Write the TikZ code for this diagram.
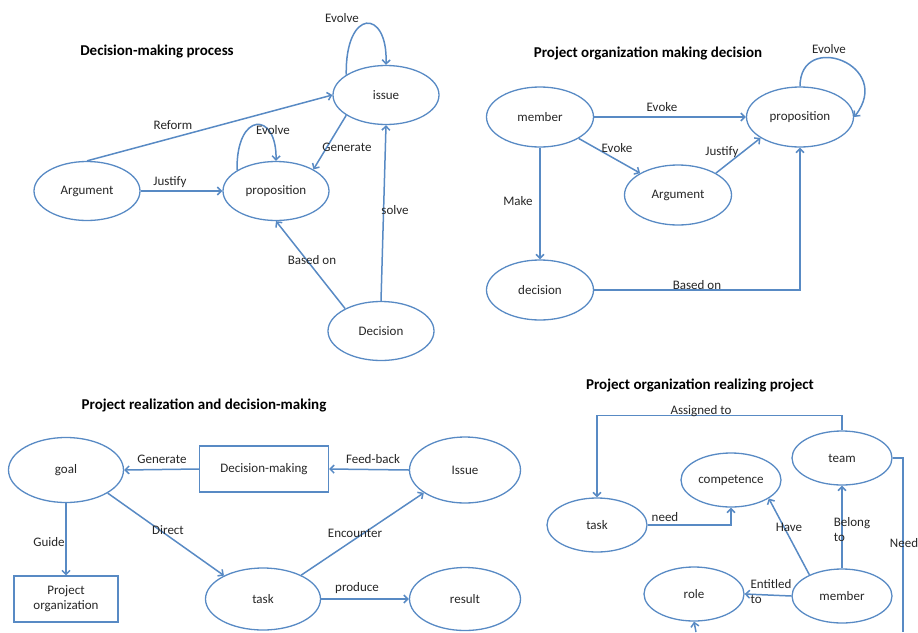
\documentclass[tikz,border=0pt]{standalone}
\usepackage{fontspec}
\setmainfont{Carlito}
\usetikzlibrary{shapes.geometric,arrows.meta}
\definecolor{linkblue}{RGB}{88,138,196}
\tikzset{
  entity/.style={ellipse, draw=linkblue, line width=1.3pt, minimum width=106pt,
    minimum height=59pt, inner sep=0pt, text=black!85, font=\fontsize{13}{15}\selectfont},
  procbox/.style={rectangle, draw=linkblue, line width=1.2pt, inner sep=0pt,
    align=center, text=black!85, font=\fontsize{13}{15}\selectfont},
  link/.style={draw=linkblue, line width=1.5pt, -{Straight Barb[length=4pt,width=8pt]}},
  plainlink/.style={draw=linkblue, line width=1.5pt},
  lbl/.style={inner sep=0pt, text=black!85, font=\fontsize{13}{15}\selectfont},
  ttl/.style={inner sep=0pt, font=\bfseries\fontsize{15}{18}\selectfont},
}
\begin{document}
\begin{tikzpicture}[x=1pt, y=-1pt]
\useasboundingbox (0,0) rectangle (918,632);

% Decision-making process
\node[ttl] (t1) at (157,52) {Decision-making process};
\foreach \n/\t/\x/\y in {issueA/issue/386/95, argA/Argument/87/191,
    propA/proposition/276/191, decA/Decision/381/331}{
    \node[entity] (\n) at (\x,\y) {\t};
}
\draw[link] (argA.north) -- (issueA.west);
\draw[link] (argA.east) -- (propA.west);
\draw[link] (issueA.207) -- (propA.30);
\draw[link] (decA.north) -- (issueA.south);
\draw[link] (decA.148) -- (propA.south);
\draw[link] (issueA.153) .. controls (345,8) and (388,8) .. (issueA.north);
\draw[link] (propA.152) .. controls (236,111) and (277,111) .. (propA.north);
\node[lbl] (evA1) at (342,18) {Evolve};
\node[lbl] (refA) at (173,125) {Reform};
\node[lbl] (jusA) at (170,182) {Justify};
\node[lbl] (evA2) at (273,130) {Evolve};
\node[lbl] (genA) at (347,147) {Generate};
\node[lbl] (solA) at (395,210) {solve};
\node[lbl] (basA) at (312,260) {Based on};

% Project organization making decision
\node[ttl] (t2) at (648,53) {Project organization making decision};
\foreach \n/\t/\x/\y in {memB/member/540/117, propB/proposition/800/117,
    argB/Argument/678/195, decB/decision/540/290}{
    \node[entity, minimum width=107pt, minimum height=60pt] (\n) at (\x,\y) {\t};
}
\draw[link] (memB.east) -- (propB.west);
\draw[link] (memB.331) -- (argB.150);
\draw[link] (argB.30) -- (propB.208);
\draw[link] (memB.south) -- (decB.north);
\draw[link] (decB.east) -| (propB.south);
\draw[link] (propB.north) .. controls (800,30) and (895,65) .. (propB.east);
\node[lbl] (evB) at (829,49) {Evolve};
\node[lbl] (evkB1) at (662,107) {Evoke};
\node[lbl] (evkB2) at (617,148) {Evoke};
\node[lbl] (jusB) at (722,152) {Justify};
\node[lbl] (makB) at (518,201) {Make};
\node[lbl] (basB) at (697,285) {Based on};

% Project realization and decision-making
\node[ttl] (t3) at (204,405) {Project realization and decision-making};
\node[entity, minimum width=115pt, minimum height=65pt] (goalC) at (66,470) {goal};
\node[entity, minimum width=111pt, minimum height=66pt] (issC) at (465,470) {Issue};
\node[entity, minimum width=115pt, minimum height=62pt] (taskC) at (263,599) {task};
\node[entity, minimum width=111pt, minimum height=63pt] (resC) at (465,599) {result};
\node[procbox, minimum width=129pt, minimum height=46pt] (dmC) at (264,469) {Decision-making};
\node[procbox, minimum width=104pt, minimum height=46pt] (orgC) at (66,599) {Project\\organization};
\draw[link] (issC.west) -- (dmC.east);
\draw[link] (dmC.west) -- (goalC.east);
\draw[link] (goalC.south) -- (orgC.north);
\draw[link] (goalC.331) -- (taskC.149);
\draw[link] (taskC.32) -- (issC.209);
\draw[link] (taskC.east) -- (resC.west);
\node[lbl] (genC) at (162,459) {Generate};
\node[lbl] (feeC) at (373,459) {Feed-back};
\node[lbl] (guiC) at (49,542) {Guide};
\node[lbl] (dirC) at (168,530) {Direct};
\node[lbl] (encC) at (355,533) {Encounter};
\node[lbl] (proC) at (357,588) {produce};

% Project organization realizing project
\node[ttl] (t4) at (700,385) {Project organization realizing project};
\foreach \n/\t/\x/\y in {teamD/team/842/458, compD/competence/731/480,
    taskD/task/597/525, roleD/role/694/594, memD/member/842/596}{
    \node[entity, minimum width=100pt, minimum height=54pt] (\n) at (\x,\y) {\t};
}
\coordinate (needD) at (903,632);
\coordinate (roleinD) at (696,632);
\draw[link] (teamD.north) -- ++(0,-15) -| (taskD.north);
\draw[link] (taskD.east) -| (compD.south);
\draw[link] (memD.147) -- (compD.334);
\draw[link] (memD.north) -- (teamD.south);
\draw[link] (memD.west) -- (roleD.east);
\draw[plainlink] (teamD.east) -| (needD);
\draw[link] (roleinD) -- (roleD.south);
\node[lbl] (asgD) at (701,411) {Assigned to};
\node[lbl] (nedD) at (665,517) {need};
\node[lbl] (havD) at (789,527) {Have};
\node[lbl, align=left] (belD) at (852,530) {Belong\\to};
\node[lbl, align=left] (entD) at (771,592) {Entitled\\to};
\node[lbl] (nD) at (904,543) {Need};

\end{tikzpicture}
\end{document}
